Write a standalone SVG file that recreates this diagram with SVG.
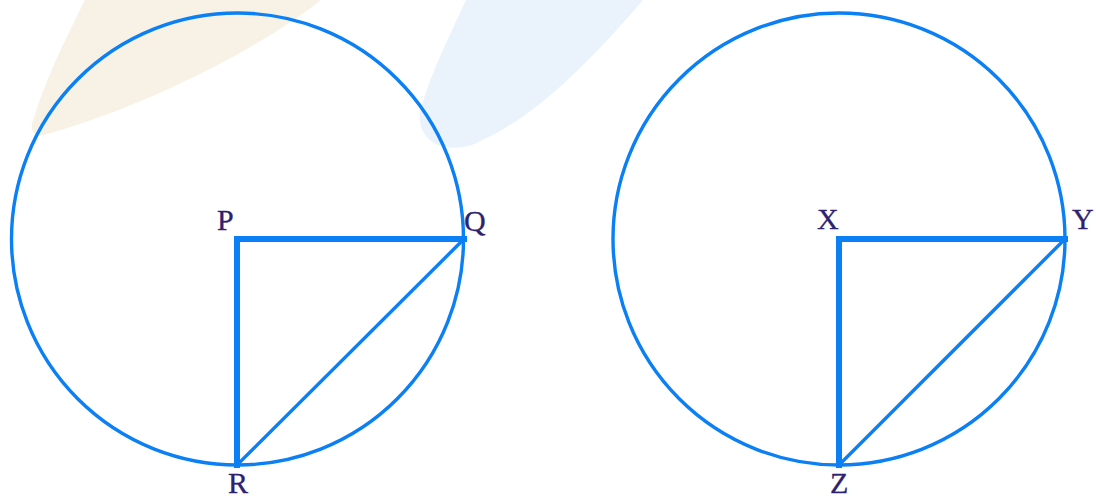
<svg xmlns="http://www.w3.org/2000/svg" width="1096" height="500" viewBox="0 0 1096 500">
<style>
.circ{fill:none;stroke:#0b7ff4;stroke-width:3.4}
.thick{fill:none;stroke:#0b7ff4;stroke-width:6;stroke-linecap:square}
.thin{fill:none;stroke:#0b7ff4;stroke-width:3.4}
.lbl{font-family:"Liberation Serif","Times New Roman",serif;font-size:30px;fill:#2e2170;stroke:#2e2170;stroke-width:0.3}
</style>
<rect width="1096" height="500" fill="#ffffff"/>
<g id="watermark">
<path d="M85,0 L321,0 C265,45 150,105 47,134 C37,137 30,132 32,124 C45,80 65,40 85,0 Z" fill="#f8f1e5"/>
<path d="M466,0 L643,0 C600,50 540,115 482,140 C470,148 450,150 438,145 C422,138 417,122 421,108 C432,70 450,35 466,0 Z" fill="#eaf3fb"/>
</g>
<g id="figure-left">
<circle class="circ" cx="237.5" cy="239" r="226"/>
<path class="thick" d="M464,239 L237,239 L237,465"/>
<line class="thin" x1="464" y1="239" x2="237" y2="465"/>
</g>
<g id="figure-right">
<circle class="circ" cx="839" cy="239" r="226"/>
<path class="thick" d="M1065,239 L839,239 L839,465"/>
<line class="thin" x1="1065" y1="239" x2="839" y2="465"/>
</g>
<g id="labels">
<text class="lbl" x="217" y="230">P</text>
<text class="lbl" x="464" y="231">Q</text>
<text class="lbl" x="228" y="493">R</text>
<text class="lbl" x="817" y="229">X</text>
<text class="lbl" x="1072" y="229">Y</text>
<text class="lbl" x="830" y="493">Z</text>
</g>
</svg>
